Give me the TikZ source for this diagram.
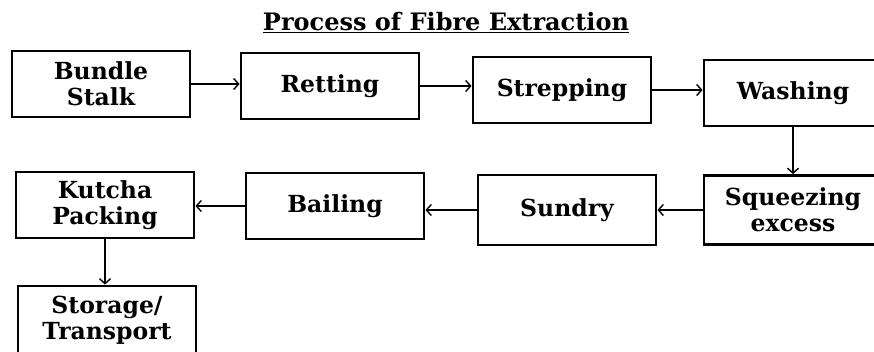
\documentclass[tikz,border=0pt]{standalone}
\usepackage{fontspec}
\setmainfont{DejaVu Serif}
\usetikzlibrary{arrows.meta}
\tikzset{
  stepbox/.style={draw, line width=2.8pt, minimum width=178pt, minimum height=66pt,
    align=center, font=\bfseries\fontsize{23.5}{26}\selectfont},
  flow/.style={line width=2pt, -{Straight Barb[length=5pt,width=11pt,line width=1.4pt]}}
}
\begin{document}
\begin{tikzpicture}[x=1pt,y=-1pt]
      \clip (0,0) rectangle (874,351);

      % title
      \node[font=\bfseries\fontsize{24}{28}\selectfont] (title) at (446,23) {\underline{Process of Fibre Extraction}};

      % first row
      \node[stepbox] (bundle) at (101,84) {Bundle\\Stalk};
      \node[stepbox] (retting) at (330,86) {Retting};
      \node[stepbox] (strep) at (562,90) {Strepping};
      \node[stepbox] (wash) at (793,93) {Washing};

      % second row
      \node[stepbox, minimum height=69pt] (squeeze) at (793,210) {Squeezing\\excess};
      \node[stepbox, minimum height=70pt] (sundry) at (567,210) {Sundry};
      \node[stepbox] (bailing) at (335,206) {Bailing};
      \node[stepbox] (kutcha) at (105,205) {Kutcha\\Packing};

      % last one
      \node[stepbox, minimum height=68pt] (storage) at (107,320) {Storage/\\Transport};

      \draw[flow] (bundle.east) -- (bundle.east -| retting.west);
      \draw[flow] (retting.east) -- (retting.east -| strep.west);
      \draw[flow] (strep.east) -- (strep.east -| wash.west);
      \draw[flow] (wash.south) -- (squeeze.north);
      \draw[flow] (squeeze.west) -- (squeeze.west -| sundry.east);
      \draw[flow] (sundry.west) -- (sundry.west -| bailing.east);
      \draw[flow] (bailing.west) -- (bailing.west -| kutcha.east);
      \draw[flow] (kutcha.south) -- (kutcha.south |- storage.north);
\end{tikzpicture}
\end{document}
